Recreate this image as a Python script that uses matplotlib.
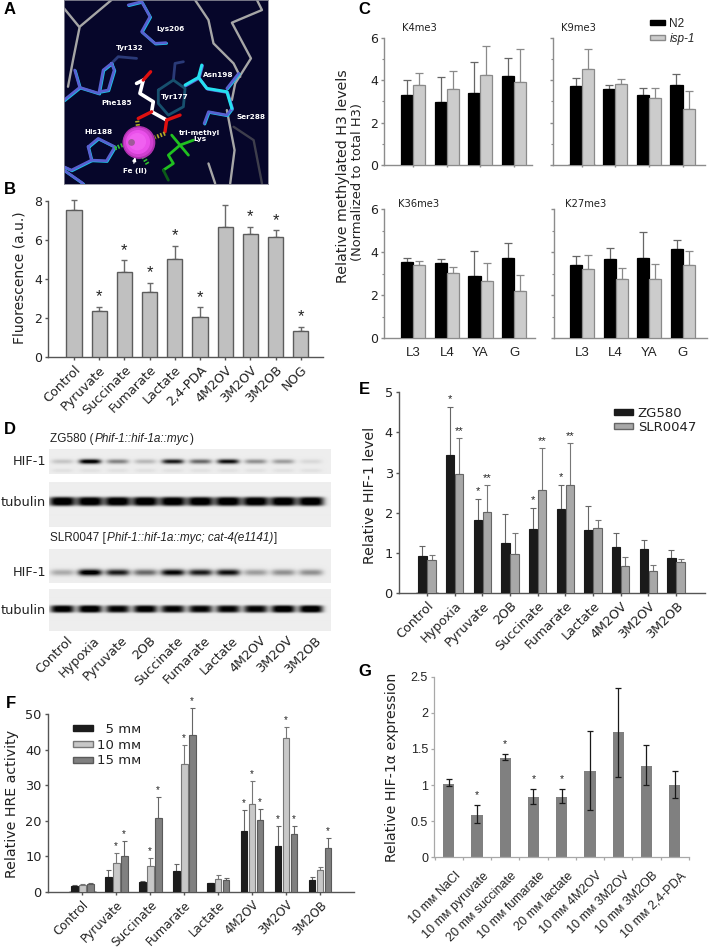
import numpy as np
import matplotlib
matplotlib.use("Agg")
import matplotlib.pyplot as plt
from matplotlib.patches import Circle

W, H = 709, 948
WIDE = "DejaVu Sans"
PLAIN = ["Liberation Sans", "DejaVu Sans"]

# ---------- panel B ----------
b_labels = ["Control", "Pyruvate", "Succinate", "Fumarate", "Lactate", "2,4-PDA", "4M2OV", "3M2OV", "3M2OB", "NOG"]
b_vals = [7.5, 2.35, 4.33, 3.35, 5.03, 2.05, 6.63, 6.28, 6.15, 1.35]
b_tops = [8.05, 2.58, 4.95, 3.8, 5.7, 2.55, 7.8, 6.67, 6.5, 1.55]
b_stars = ["", "*", "*", "*", "*", "*", "", "*", "*", "*"]

# ---------- panel C ----------
c_stages = ["L3", "L4", "YA", "G"]
k4_n2 = [3.3, 2.95, 3.4, 4.2]
k4_n2_top = [4.02, 4.15, 4.87, 5.03]
k4_isp = [3.78, 3.6, 4.25, 3.93]
k4_isp_top = [4.35, 4.43, 5.63, 5.47]
k9_n2 = [3.72, 3.57, 3.3, 3.77]
k9_n2_top = [4.1, 3.77, 3.63, 4.3]
k9_isp = [4.52, 3.8, 3.15, 2.65]
k9_isp_top = [5.45, 4.03, 3.65, 3.47]
k36_n2 = [3.56, 3.5, 2.9, 3.71]
k36_n2_top = [3.71, 3.66, 4.04, 4.42]
k36_isp = [3.4, 3.03, 2.66, 2.2]
k36_isp_top = [3.6, 3.29, 3.51, 2.92]
k27_n2 = [3.4, 3.68, 3.74, 4.14]
k27_n2_top = [3.82, 4.18, 4.92, 4.55]
k27_isp = [3.22, 2.75, 2.75, 3.39]
k27_isp_top = [3.85, 3.25, 3.43, 4.04]

# ---------- panel D ----------
d_labels = ["Control", "Hypoxia", "Pyruvate", "2OB", "Succinate", "Fumarate", "Lactate", "4M2OV", "3M2OV", "3M2OB"]
d_hif_zg = [0.15, 0.95, 0.4, 0.2, 0.8, 0.5, 0.85, 0.35, 0.3, 0.08]
d_tub_zg = [1, 1, 1, 1, 1, 1, 1, 1, 1, 1]
d_hif_slr = [0.25, 1, 0.8, 0.5, 0.9, 0.8, 0.85, 0.3, 0.35, 0.35]
d_tub_slr = [0.95, 1, 0.9, 0.95, 0.9, 0.9, 0.9, 0.9, 1, 1]

# ---------- panel E ----------
e_labels = d_labels
e_zg = [0.92, 3.45, 1.81, 1.25, 1.6, 2.09, 1.56, 1.15, 1.1, 0.86]
e_zg_top = [1.16, 4.63, 2.33, 1.97, 2.11, 2.69, 2.16, 1.5, 1.32, 1.08]
e_slr = [0.81, 2.96, 2.03, 0.96, 2.56, 2.69, 1.61, 0.68, 0.56, 0.76]
e_slr_top = [0.95, 3.86, 2.7, 1.5, 3.62, 3.73, 1.81, 0.89, 0.69, 0.84]
e_zg_stars = ["", "*", "*", "", "*", "*", "", "", "", ""]
e_slr_stars = ["", "**", "**", "", "**", "**", "", "", "", ""]

# ---------- panel F ----------
f_labels = ["Control", "Pyruvate", "Succinate", "Fumarate", "Lactate", "4M2OV", "3M2OV", "3M2OB"]
f_5 = [1.7, 4.3, 2.8, 5.9, 2.4, 17.2, 12.8, 3.5]
f_5_top = [2.1, 6.1, 3.1, 7.8, 2.6, 23, 18.4, 4.3]
f_10 = [2.0, 8.1, 7.3, 35.9, 3.65, 24.6, 43.2, 6.2]
f_10_top = [2.2, 10.9, 9.5, 41.4, 4.7, 31.2, 46.4, 7.1]
f_15 = [2.2, 10.2, 20.7, 44.2, 3.4, 20.2, 16.3, 12.4]
f_15_top = [2.6, 14.2, 26.6, 51.6, 4, 23.2, 18.4, 15.1]
f_5_stars = ["", "", "", "", "", "*", "*", ""]
f_10_stars = ["", "*", "*", "*", "", "*", "*", ""]
f_15_stars = ["", "*", "*", "*", "", "*", "*", "*"]

# ---------- panel G ----------
g_labels = ["10 m\u1d0d NaCl", "10 m\u1d0d pyruvate", "20 m\u1d0d succinate", "10 m\u1d0d fumarate", "20 m\u1d0d lactate",
            "10 m\u1d0d 4M2OV", "10 m\u1d0d 3M2OV", "10 m\u1d0d 3M2OB", "10 m\u1d0d 2,4-PDA"]
g_vals = [1.02, 0.59, 1.38, 0.83, 0.84, 1.19, 1.73, 1.27, 1.0]
g_upper = [1.08, 0.72, 1.43, 0.94, 0.94, 1.75, 2.34, 1.55, 1.2]
g_lower = [0.99, 0.47, 1.34, 0.74, 0.75, 0.65, 1.11, 1.0, 0.82]
g_stars = ["", "*", "*", "*", "*", "", "", "", ""]

# ---------- panel A, structure traces ----------
a_grey = [[(335, 0), (240, 80), (220, 180), (205, 260)], [(193, 25), (238, 80)],
          [(585, 0), (625, 60), (640, 130), (700, 190), (720, 230)],
          [(770, 0), (785, 30), (695, 68), (752, 175), (705, 250), (695, 300)],
          [(680, 330), (703, 450), (690, 550)], [(625, 490), (645, 550)]]
a_dark = [[(700, 380), (760, 420), (785, 550)]]
a_blue = [[(385, 15), (425, 5), (450, 50), (425, 95), (465, 130), (498, 128)],
          [(335, 190), (310, 210), (298, 275), (325, 270), (343, 210), (335, 190)],
          [(193, 300), (240, 262), (298, 280)], [(240, 262), (225, 210)],
          [(680, 265), (715, 220)], [(612, 370), (625, 335), (680, 345), (695, 325)],
          [(265, 440), (295, 415), (345, 440), (320, 482), (275, 480), (265, 440)],
          [(275, 480), (215, 510), (193, 500)], [(193, 510), (250, 550)]]
a_cyan = [[(555, 255), (595, 232), (620, 265), (680, 275), (695, 325)], [(595, 232), (605, 195)]]
a_navy = [[(410, 175), (355, 170), (335, 190)], [(520, 240), (525, 190), (550, 185)]]
a_teal = [[(475, 270), (520, 240), (555, 265), (550, 320), (505, 345), (475, 310), (475, 270)]]
a_white = [[(430, 240), (410, 250)], [(430, 240), (420, 280), (460, 305), (455, 335), (500, 360)]]
a_red = [[(430, 240), (452, 215)], [(455, 335), (415, 355)], [(500, 360), (540, 345)], [(500, 360), (495, 395)]]
a_green = [[(515, 405), (540, 435), (580, 420)], [(540, 435), (565, 465)],
           [(540, 435), (505, 465), (520, 490), (490, 510)]]
a_green_dark = [[(490, 510), (505, 540)]]
a_yellow_dash = [[(412, 362), (415, 385)], [(495, 400), (465, 412)]]
a_green_dash = [[(345, 445), (378, 430)], [(430, 470), (445, 495)]]
a_names = ["Lys206", "Tyr132", "Asn198", "Tyr177", "Phe185", "Ser288", "His188", "tri-methyl\nLys", "Fe (II)"]
a_name_x = [512, 388, 655, 525, 350, 753, 295, 598, 406]
a_name_y = [88, 143, 226, 290, 310, 350, 395, 408, 512]

fig = plt.figure(figsize=(W / 100, H / 100), dpi=100)
fig.patch.set_facecolor("white")


def px_axes(l, t, r, b):
    return fig.add_axes([l / W, 1 - b / H, (r - l) / W, (b - t) / H])


def px_text(x, y, s, **kw):
    kw.setdefault("ha", "center")
    kw.setdefault("va", "center")
    return fig.text(x / W, 1 - y / H, s, **kw)


def mixed_line(x, y, pieces, size):
    # plain and italic runs one after the other on one line
    renderer = fig.canvas.get_renderer()
    for s, style in pieces:
        t = px_text(x, y, s, ha="left", va="baseline", fontsize=size, family=PLAIN, style=style, color="#222222")
        x = t.get_window_extent(renderer).x1 + 1


def style_axes(ax, left, right, first, pitch, ymax, spine_color, lw=1.0):
    # x scale is set so group 0 lands on pixel "first" and groups are "pitch" apart
    ax.set_xlim((left - first) / pitch, (right - first) / pitch)
    ax.set_ylim(0, ymax)
    ax.patch.set_alpha(0)
    ax.spines["top"].set_visible(False)
    ax.spines["right"].set_visible(False)
    ax.spines["left"].set_color(spine_color)
    ax.spines["bottom"].set_color(spine_color)
    ax.spines["left"].set_linewidth(lw)
    ax.spines["bottom"].set_linewidth(lw)
    ax.tick_params(colors="#222222", color=spine_color, width=lw, length=2.5, pad=2)


def bars(ax, x, vals, tops, width, fill, edge, err, capsize=2.5, lw=1.0):
    vals = np.array(vals)
    tops = np.array(tops)
    ax.bar(x, vals, width, color=fill, edgecolor=edge, linewidth=lw, zorder=3)
    ax.errorbar(x, vals, yerr=[np.zeros(len(vals)), tops - vals], fmt="none", ecolor=err,
                elinewidth=lw, capsize=capsize, capthick=lw, zorder=2, clip_on=False)


def stars(ax, x, tops, marks, size, gap):
    for xi, top, m in zip(x, tops, marks):
        if m:
            ax.annotate(m, (xi, top), xytext=(0, gap), textcoords="offset points", ha="center", va="center",
                        fontsize=size, color="#222222", family=PLAIN, annotation_clip=False)


def rotated_labels(ax, labels, size, family=WIDE):
    ax.set_xticks(np.arange(len(labels)))
    ax.set_xticklabels(labels, rotation=45, ha="right", va="top", rotation_mode="anchor",
                       fontsize=size, family=family, color="#222222")


# ==========================
# A. active site picture
# ==========================
ax = px_axes(64, 0, 268, 183.5)
ax.set_facecolor("#06062a")
ax.set_xlim(193, 803)
ax.set_ylim(550, 0)
ax.set_xticks([])
ax.set_yticks([])
for s in ax.spines.values():
    s.set_color("#8a8a96")
    s.set_linewidth(0.6)


def traces(paths, color, lw, offset=0, **kw):
    for p in paths:
        xs = [q[0] + offset for q in p]
        ys = [q[1] + offset for q in p]
        ax.plot(xs, ys, color=color, lw=lw, solid_capstyle="round", **kw)


traces(a_grey, "#a6a6a6", 1.7)
traces(a_dark, "#3e3e4c", 1.7)
traces(a_navy, "#2a3a78", 2.0)
traces(a_teal, "#17506e", 2.0)
traces(a_blue, "#19c8e8", 2.0, offset=2)
traces(a_blue, "#5860d0", 2.0)
traces(a_cyan, "#5860d0", 2.2, offset=2)
traces(a_cyan, "#25e0f0", 2.2)
traces(a_white, "white", 2.6)
traces(a_red, "#e01010", 2.4)
traces(a_green, "#20c020", 2.0)
traces(a_green_dark, "#0c5c18", 2.0)
traces(a_yellow_dash, "#b0a828", 3.0, linestyle=(0, (0.4, 0.4)))
traces(a_green_dash, "#30c030", 3.0, linestyle=(0, (0.4, 0.4)))
for r, c in zip([47, 42, 34, 24], ["#b030b0", "#d040d0", "#ea50ea", "#f060f0"]):
    ax.add_patch(Circle((417 - (47 - r) * 0.2, 427 - (47 - r) * 0.1), r, color=c, zorder=5))
ax.add_patch(Circle((395, 427), 8, color="#a05a9a", zorder=6))
ax.annotate("", xy=(408, 463), xytext=(400, 497), zorder=7,
            arrowprops=dict(arrowstyle="-|>", color="white", lw=1, mutation_scale=5))
for name, nx, ny in zip(a_names, a_name_x, a_name_y):
    ax.text(nx, ny, name, color="white", fontsize=5.2, fontweight="bold", family=WIDE, ha="center", va="center",
            linespacing=1.05, zorder=8)

# ==========================
# B. fluorescence
# ==========================
ax = px_axes(48, 200.7, 323, 357)
style_axes(ax, 48, 323, 74, 25.2, 8, "#555555")
x = np.arange(len(b_vals))
bars(ax, x, b_vals, b_tops, 0.6, "#c0c0c0", "#5c5c5c", "#6a6a6a")
stars(ax, x, b_tops, b_stars, 12, 7)
ax.set_yticks([0, 2, 4, 6, 8])
ax.tick_params(axis="y", labelsize=9)
rotated_labels(ax, b_labels, 9.2)
px_text(20, 278, "Fluorescence (a.u.)", rotation=90, fontsize=10, family=WIDE, color="#222222")

# ==========================
# C. methylated H3
# ==========================
c_panels = [
    (384.3, 37.7, 532, 165, 413, k4_n2, k4_n2_top, k4_isp, k4_isp_top, True, False),
    (553, 37.7, 705, 165, 581.7, k9_n2, k9_n2_top, k9_isp, k9_isp_top, False, False),
    (384.3, 209, 535, 338.3, 413.3, k36_n2, k36_n2_top, k36_isp, k36_isp_top, True, True),
    (554, 209, 707, 338.3, 582, k27_n2, k27_n2_top, k27_isp, k27_isp_top, False, True),
]
for l, t, r, b, first, n2, n2_top, isp, isp_top, show_y, show_x in c_panels:
    ax = px_axes(l, t, r, b)
    style_axes(ax, l, r, first, 33.6, 6, "#8c8c8c")
    x = np.arange(4)
    bars(ax, x - 0.18, n2, n2_top, 0.36, "black", "black", "#666666", capsize=3, lw=0.9)
    bars(ax, x + 0.18, isp, isp_top, 0.36, "#cccccc", "#8a8a8a", "#8a8a8a", capsize=3, lw=0.9)
    ax.set_yticks([0, 2, 4, 6])
    ax.set_yticks([1, 3, 5], minor=True)
    ax.tick_params(axis="y", which="minor", color="#8c8c8c", length=1.5, width=0.8)
    ax.tick_params(axis="y", labelsize=9, labelleft=show_y)
    ax.set_xticks(x)
    if show_x:
        ax.set_xticklabels(c_stages, fontsize=9.5, family=PLAIN, color="#222222")
        ax.tick_params(axis="x", length=0, pad=6)
    else:
        ax.set_xticklabels([])
        ax.tick_params(axis="x", length=1.5)
    if l > 500 and not show_x:
        n2_patch = ax.bar([0], [0], color="black", edgecolor="black", label="N2")
        isp_patch = ax.bar([0], [0], color="#cccccc", edgecolor="#8a8a8a", label="isp-1")
        leg = ax.legend(handles=[n2_patch, isp_patch], loc="upper left", bbox_to_anchor=(650 / W, 1 - 18 / H),
                        bbox_transform=fig.transFigure, frameon=False, borderpad=0, borderaxespad=0,
                        handlelength=1.3, handleheight=0.25, handletextpad=0.35, labelspacing=0.25,
                        prop={"family": "Liberation Sans", "size": 8.5}, labelcolor="#222222")
        leg.get_texts()[1].set_fontstyle("italic")
px_text(419, 28, "K4me3", fontsize=7.2, family=WIDE, color="#222222")
px_text(578, 28, "K9me3", fontsize=7.2, family=WIDE, color="#222222")
px_text(419, 204, "K36me3", fontsize=7.2, family=WIDE, color="#222222")
px_text(586, 204, "K27me3", fontsize=7.2, family=WIDE, color="#222222")
px_text(343, 176, "Relative methylated H3 levels", rotation=90, fontsize=10.3, family=WIDE, color="#222222")
px_text(358, 182, "(Normalized to total H3)", rotation=90, fontsize=9.4, family=WIDE, color="#222222")

# ==========================
# D. western blots
# ==========================


def blot(t, b, band_y, levels, half_len, thick, power, second=None):
    # one strip of film: dark smeared band per lane on a pale background
    l, r = 49, 331
    rows, cols = int(b - t), int(r - l)
    yy, xx = np.mgrid[t:t + rows, l:l + cols]
    img = np.full((rows, cols), 0.93)
    for i, level in enumerate(levels):
        c = 62 + 27.6 * i
        band = np.exp(-np.abs((xx - c) / half_len) ** 4) * np.exp(-np.abs((yy - band_y) / thick) ** power)
        img -= 1.05 * level * band
        if second is not None:
            img -= 0.05 * np.exp(-((xx - c) / half_len) ** 4) * np.exp(-((yy - second) / 2) ** 2)
    ax = px_axes(l, t, r, b)
    ax.imshow(np.clip(img, 0, 1), cmap="gray", vmin=0, vmax=1, aspect="auto", interpolation="bilinear")
    ax.axis("off")


blot(449, 474, 461, d_hif_zg, 11, 2.4, 2, second=470)
blot(482, 527, 501.5, d_tub_zg, 13, 4.4, 4)
blot(549, 583, 572, d_hif_slr, 12, 3.2, 2)
blot(589, 631, 609, d_tub_slr, 12, 3.6, 4)
mixed_line(50, 442, [("ZG580 (", "normal"), ("Phif-1::hif-1a::myc", "italic"), (")", "normal")], 8.5)
mixed_line(50, 541, [("SLR0047 [", "normal"), ("Phif-1::hif-1a::myc; cat-4(e1141)", "italic"), ("]", "normal")], 8.5)
for y_lab, lab in zip([462, 502, 572, 610], ["HIF-1", "tubulin", "HIF-1", "tubulin"]):
    px_text(46, y_lab, lab, ha="right", fontsize=9.3, family=WIDE, color="#222222")
for i, lab in enumerate(d_labels):
    fig.text((66 + 27.6 * i) / W, 1 - 634 / H, lab, rotation=45, ha="right", va="top", rotation_mode="anchor",
             fontsize=9.2, family=WIDE, color="#222222")

# ==========================
# E. HIF-1 level
# ==========================
ax = px_axes(399, 392.3, 705, 593)
style_axes(ax, 399, 705, 427, 27.67, 5, "#555555")
x = np.arange(len(e_zg))
bars(ax, x - 0.165, e_zg, e_zg_top, 0.3, "#1a1a1a", "#1a1a1a", "#666666", capsize=2.5, lw=0.8)
bars(ax, x + 0.165, e_slr, e_slr_top, 0.3, "#a8a8a8", "#666666", "#777777", capsize=2.5, lw=0.8)
stars(ax, x - 0.165, e_zg_top, e_zg_stars, 8, 6)
stars(ax, x + 0.165, e_slr_top, e_slr_stars, 8, 5)
ax.set_yticks([0, 1, 2, 3, 4, 5])
ax.tick_params(axis="y", labelsize=9.3)
rotated_labels(ax, e_labels, 9.2)
z_patch = ax.bar([0], [0], color="#1a1a1a", edgecolor="#1a1a1a", label="ZG580")
s_patch = ax.bar([0], [0], color="#a8a8a8", edgecolor="#666666", label="SLR0047")
ax.legend(handles=[z_patch, s_patch], loc="upper left", bbox_to_anchor=(613.5 / W, 1 - 407 / H),
          bbox_transform=fig.transFigure, frameon=False, borderpad=0, borderaxespad=0, handlelength=1.44,
          handleheight=0.35, handletextpad=0.4, labelspacing=0.05, prop={"family": WIDE, "size": 9.5}, labelcolor="#222222")
px_text(370, 495, "Relative HIF-1 level", rotation=90, fontsize=10.2, family=WIDE, color="#222222")

# ==========================
# F. HRE activity
# ==========================
ax = px_axes(48, 714, 354, 892)
style_axes(ax, 48, 354, 82.3, 33.95, 50, "#555555")
x = np.arange(len(f_5))
bars(ax, x - 0.235, f_5, f_5_top, 0.2, "#1c1c1c", "#1c1c1c", "#666666", capsize=1.8, lw=0.8)
bars(ax, x, f_10, f_10_top, 0.2, "#c8c8c8", "#777777", "#777777", capsize=1.8, lw=0.8)
bars(ax, x + 0.235, f_15, f_15_top, 0.2, "#808080", "#5a5a5a", "#666666", capsize=1.8, lw=0.8)
stars(ax, x - 0.235, f_5_top, f_5_stars, 7, 5)
stars(ax, x, f_10_top, f_10_stars, 7, 5)
stars(ax, x + 0.235, f_15_top, f_15_stars, 7, 5)
ax.set_yticks([0, 10, 20, 30, 40, 50])
ax.tick_params(axis="y", labelsize=9.3)
rotated_labels(ax, f_labels, 8.6)
h5 = ax.bar([0], [0], color="#1c1c1c", edgecolor="#1c1c1c", label="  5 m\u1d0d")
h10 = ax.bar([0], [0], color="#c8c8c8", edgecolor="#777777", label="10 m\u1d0d")
h15 = ax.bar([0], [0], color="#808080", edgecolor="#5a5a5a", label="15 m\u1d0d")
ax.legend(handles=[h5, h10, h15], loc="upper left", bbox_to_anchor=(73 / W, 1 - 723 / H),
          bbox_transform=fig.transFigure, frameon=False, borderpad=0, borderaxespad=0, handlelength=1.5,
          handleheight=0.32, handletextpad=0.35, labelspacing=0.2, prop={"family": WIDE, "size": 9.5}, labelcolor="#222222")
px_text(12, 804, "Relative HRE activity", rotation=90, fontsize=10.2, family=WIDE, color="#222222")

# ==========================
# G. HIF-1a expression
# ==========================
ax = px_axes(434.3, 676.7, 689.3, 857.3)
style_axes(ax, 434.3, 689.3, 448.7, 28.25, 2.5, "#a8a8a8", lw=0.9)
x = np.arange(len(g_vals))
g_vals_arr = np.array(g_vals)
ax.bar(x, g_vals, 0.4, color="#808080", zorder=2)
ax.errorbar(x, g_vals, yerr=[g_vals_arr - np.array(g_lower), np.array(g_upper) - g_vals_arr], fmt="none",
            ecolor="#1a1a1a", elinewidth=0.9, capsize=2.2, capthick=0.9, zorder=3, clip_on=False)
stars(ax, x, g_upper, g_stars, 7.5, 7.5)
ax.set_yticks([0, 0.5, 1, 1.5, 2, 2.5])
ax.set_yticklabels(["0", "0.5", "1", "1.5", "2", "2.5"], fontsize=9, family=PLAIN)
ax.set_xticks(np.arange(len(g_vals) + 1) - 0.5)
ax.set_xticklabels([])
for i, lab in enumerate(g_labels):
    ax.annotate(lab, (i, 0), xytext=(4, -9), textcoords="offset points", rotation=45, ha="right", va="top",
                rotation_mode="anchor", fontsize=9, family=PLAIN, color="#222222", annotation_clip=False)
px_text(392, 767, "Relative HIF-1\u03b1 expression", rotation=90, fontsize=10.2, family=WIDE, color="#222222")

# panel letters
for letter, lx, ly in zip("ABCDEFG", [10, 10, 364, 10, 364, 11, 365], [10, 189, 10, 430, 389, 703, 672]):
    px_text(lx, ly, letter, fontsize=12, fontweight="bold", family=PLAIN, color="black")

fig.savefig("out.png", dpi=100)
